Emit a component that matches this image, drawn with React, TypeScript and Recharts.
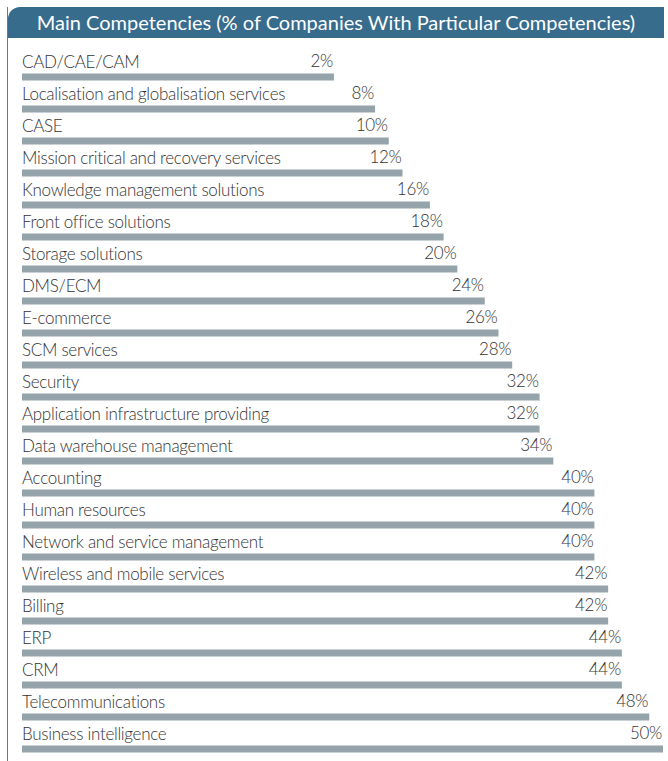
import { BarChart, Bar, XAxis, YAxis, LabelList } from "recharts";

const categories = [
  "CAD/CAE/CAM",
  "Localisation and globalisation services",
  "CASE",
  "Mission critical and recovery services",
  "Knowledge management solutions",
  "Front office solutions",
  "Storage solutions",
  "DMS/ECM",
  "E-commerce",
  "SCM services",
  "Security",
  "Application infrastructure providing",
  "Data warehouse management",
  "Accounting",
  "Human resources",
  "Network and service management",
  "Wireless and mobile services",
  "Billing",
  "ERP",
  "CRM",
  "Telecommunications",
  "Business intelligence",
];

const shares = [2, 8, 10, 12, 16, 18, 20, 24, 26, 28, 32, 32, 34, 40, 40, 40, 42, 42, 44, 44, 48, 50];

const data = categories.map((name, i) => ({ name, value: shares[i] }));

// bars start at the left edge, well before zero
const AXIS_MIN = -43.5;
const AXIS_MAX = 50;

const FONT = "Lato, 'Open Sans', sans-serif";

const NameLabel = (props: any) => {
  const { y, value } = props;
  return (
    <text x={22} y={y - 5.5} fill="#333" fontSize={17} fontWeight={300} letterSpacing={-0.3} fontFamily={FONT}>
      {value}
    </text>
  );
};

const PctLabel = (props: any) => {
  const { x, y, width, value } = props;
  return (
    <text x={x + width - 1} y={y - 6.5} textAnchor="end" fill="#333" fontSize={17} fontWeight={300} letterSpacing={-0.3} fontFamily={FONT}>
      {value}%
    </text>
  );
};

export default function App() {
  return (
    <div style={{ position: "absolute", left: 0, top: 0, width: 668, height: 761, overflow: "hidden", background: "#fff" }}>
      <div style={{ position: "absolute", left: 7, top: 7, width: 1, height: 754, background: "#777" }} />
      <div
        style={{
          position: "absolute", left: 8, top: 7, width: 656, height: 31,
          background: "#376c8d", borderTopLeftRadius: 12,
          color: "#fff", fontFamily: FONT, fontSize: 20, lineHeight: "31px", textAlign: "center",
        }}
      >
        Main Competencies (% of Companies With Particular Competencies)
      </div>
      <div style={{ position: "absolute", left: 0, top: 0 }}>
        <BarChart
          width={668}
          height={770}
          data={data}
          layout="vertical"
          margin={{ top: 60.5, right: 5, bottom: 5.5, left: 22 }}
          barSize={7}
        >
          <XAxis type="number" domain={[AXIS_MIN, AXIS_MAX]} allowDataOverflow hide />
          <YAxis type="category" dataKey="name" hide />
          <Bar dataKey={(d: any) => [AXIS_MIN, d.value]} fill="#95a3aa" isAnimationActive={false}>
            <LabelList dataKey="name" content={NameLabel} />
            <LabelList dataKey="value" content={PctLabel} />
          </Bar>
        </BarChart>
      </div>
    </div>
  );
}
